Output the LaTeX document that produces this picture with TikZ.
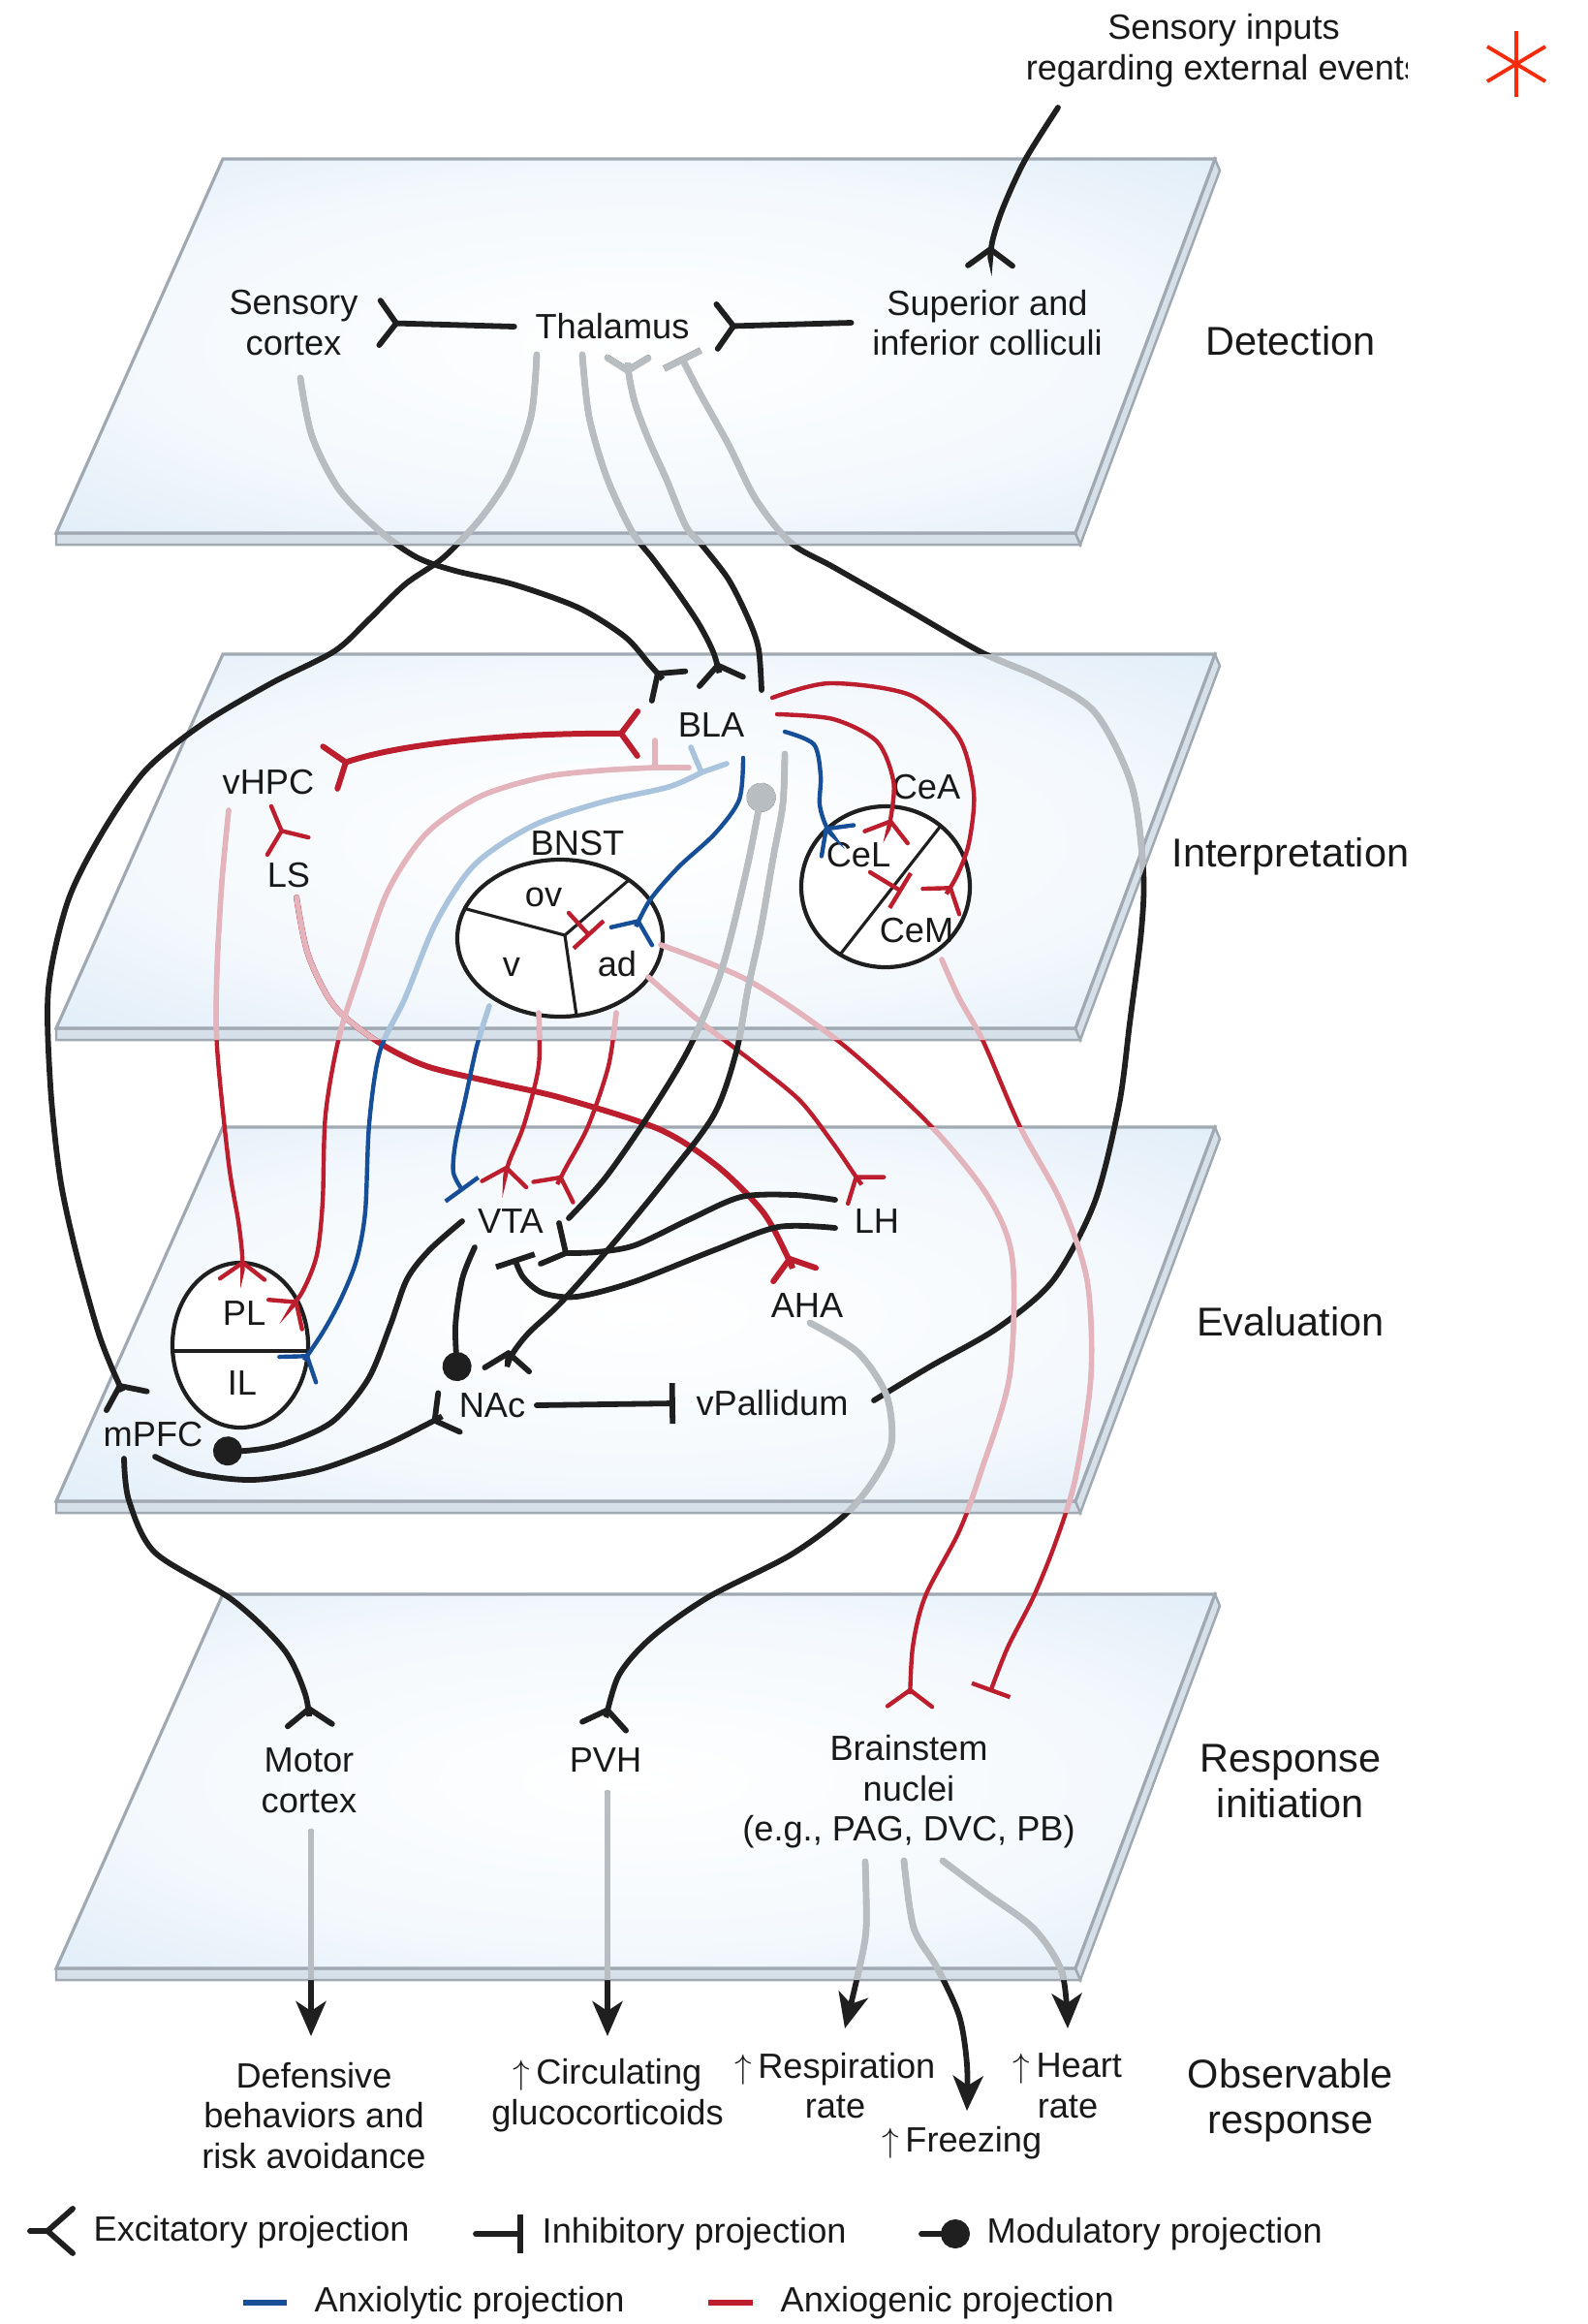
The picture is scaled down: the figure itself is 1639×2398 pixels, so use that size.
\documentclass[tikz,border=0pt]{standalone}
\usepackage{fontspec}
\setmainfont{Liberation Sans}
\usetikzlibrary{arrows.meta}
\definecolor{anxred}{RGB}{188,30,45}
\definecolor{anxblue}{RGB}{22,78,152}
\definecolor{fadeblk}{RGB}{184,189,194}
\definecolor{fadered}{RGB}{228,180,188}
\definecolor{fadeblue}{RGB}{170,196,222}
\definecolor{planeblue}{RGB}{210,229,245}
\definecolor{planeedge}{RGB}{160,168,178}
\definecolor{slabside}{RGB}{214,224,233}
\definecolor{starred}{RGB}{246,45,12}
\pgfdeclareradialshading{planeglow}{\pgfpoint{0bp}{0bp}}{color(0bp)=(white); color(22bp)=(white!75!planeblue); color(46bp)=(planeblue); color(50bp)=(planeblue)}
\newcommand{\up}{$\uparrow$\,}

% connector paths (pixel units)
\newcommand{\pSensColl}{plot[smooth] coordinates {(1092,111) (1058,165) (1035,215) (1024,250) (1022,277)}}
\newcommand{\pSCBLA}{plot[smooth] coordinates {(310,390) (322,450) (350,505) (392,548) (430,575) (470,589) (530,603) (597,627) (645,657) (670,685) (692,710)}}
\newcommand{\pThalPFC}{plot[smooth] coordinates {(554,366) (548,430) (526,490) (496,535) (458,575) (418,603) (380,640) (345,672) (280,705) (209,747) (150,795) (105,860) (70,930) (50,1020) (52,1120) (62,1215) (78,1290) (100,1370) (114,1408) (132,1448)}}
\newcommand{\pThalBLA}{plot[smooth] coordinates {(601,366) (608,430) (626,492) (652,548) (675,578) (700,612) (722,645) (737,675) (745,706)}}
\newcommand{\pBLAThal}{plot[smooth] coordinates {(786,712) (783,670) (773,640) (752,598) (725,563) (708,543) (688,495) (670,455) (656,418) (649,386) (648,366)}}
\newcommand{\pVPThal}{plot[smooth] coordinates {(902,1445) (960,1410) (1030,1370) (1087,1321) (1130,1240) (1155,1140) (1166,1056) (1178,960) (1180,898) (1168,810) (1130,735) (1075,700) (1013,673) (930,625) (860,585) (816,560) (780,515) (752,459) (722,405) (703,368)}}
\newcommand{\pLSAHA}{plot[smooth] coordinates {(306,926) (318,985) (345,1038) (390,1075) (440,1100) (510,1117) (580,1133) (680,1165) (740,1203) (787,1250) (812,1295) (821,1318)}}
\newcommand{\pHPCPL}{plot[smooth] coordinates {(236,836) (229,910) (224,1000) (224,1080) (236,1200) (246,1260) (250,1295) (250,1322)}}
\newcommand{\pBLAPL}{plot[smooth] coordinates {(676,792) (620,795) (560,802) (495,822) (440,860) (400,920) (372,1000) (350,1070) (336,1150) (333,1240) (327,1295) (312,1333) (293,1358)}}
\newcommand{\pBLAIL}{plot[smooth] coordinates {(724,797) (690,812) (620,828) (550,852) (490,892) (450,952) (418,1030) (392,1085) (381,1160) (377,1250) (368,1300) (352,1340) (333,1375) (306,1415)}}
\newcommand{\pBLAad}{plot[smooth] coordinates {(767,782) (763,825) (738,860) (700,895) (670,930) (651,968)}}
\newcommand{\pBLACeL}{plot[smooth] coordinates {(810,755) (840,768) (847,800) (846,830) (853,853) (866,869)}}
\newcommand{\pBLACeLr}{plot[smooth] coordinates {(802,737) (860,742) (905,765) (922,805) (920,840) (914,866)}}
\newcommand{\pBLACeM}{plot[smooth] coordinates {(797,720) (856,705) (939,717) (989,760) (1005,817) (1000,870) (987,905) (970,932)}}
\newcommand{\pCeMBS}{plot[smooth] coordinates {(972,990) (990,1030) (1015,1075) (1053,1163) (1095,1240) (1122,1321) (1126,1420) (1110,1525) (1090,1590) (1067,1647) (1040,1700) (1022,1746)}}
\newcommand{\padBS}{plot[smooth] coordinates {(682,975) (773,1012) (870,1078) (961,1162) (1020,1235) (1045,1300) (1042,1420) (1012,1520) (990,1580) (955,1647) (942,1700) (939,1763)}}
\newcommand{\padLH}{plot[smooth] coordinates {(669,1008) (720,1052) (780,1098) (826,1136) (860,1180) (882,1212) (895,1230)}}
\newcommand{\pvVTA}{plot[smooth] coordinates {(505,1038) (492,1080) (480,1135) (470,1180) (468,1210) (478,1229)}}
\newcommand{\povVTA}{plot[smooth] coordinates {(556,1045) (556,1100) (541,1160) (525,1200) (520,1224)}}
\newcommand{\padVTA}{plot[smooth] coordinates {(636,1045) (628,1100) (607,1162) (584,1205) (570,1232)}}
\newcommand{\pVTABLA}{plot[smooth] coordinates {(587,1257) (625,1215) (670,1150) (712,1080) (745,1000) (770,900) (784,830) (788,808)}}
\newcommand{\pBLANAc}{plot[smooth] coordinates {(810,778) (808,830) (798,885) (785,960) (772,1020) (760,1085) (737,1150) (687,1217) (633,1283) (580,1343) (545,1376) (527,1400) (523,1416)}}
\newcommand{\pLHVTAa}{plot[smooth] coordinates {(862,1238) (820,1233) (765,1235) (712,1258) (655,1285) (615,1292) (584,1293)}}
\newcommand{\pLHVTAb}{plot[smooth] coordinates {(862,1267) (803,1266) (737,1290) (653,1323) (595,1338) (560,1334) (540,1318) (531,1298)}}
\newcommand{\pVTANAc}{plot[smooth] coordinates {(490,1287) (477,1320) (470,1370) (473,1425)}}
\newcommand{\pVTAPFC}{plot[smooth] coordinates {(477,1260) (443,1290) (420,1320) (403,1367) (380,1423) (343,1467) (293,1490) (253,1497) (220,1496)}}
\newcommand{\pPFCNAc}{plot[smooth] coordinates {(160,1503) (200,1520) (260,1527) (327,1517) (393,1493) (440,1470) (466,1456)}}
\newcommand{\pAHAPVH}{plot[smooth] coordinates {(836,1365) (885,1395) (915,1440) (920,1490) (900,1530) (870,1565) (815,1605) (731,1648) (672,1690) (638,1730) (623,1784)}}
\newcommand{\pPFCMot}{plot[smooth] coordinates {(128,1505) (133,1548) (160,1602) (240,1651) (293,1702) (315,1748) (320,1783)}}
\newcommand{\pMotDef}{(321,1890) -- (321,2101)}
\newcommand{\pPVHGlu}{(627,1850) -- (627,2101)}
\newcommand{\pBSResp}{plot[smooth] coordinates {(893,1921) (894,1990) (886,2035) (872,2093)}}
\newcommand{\pBSFrz}{plot[smooth] coordinates {(933,1920) (943,1989) (967,2030) (990,2080) (998,2130) (998,2178)}}
\newcommand{\pBSHeart}{plot[smooth] coordinates {(973,1920) (1017,1953) (1067,1990) (1096,2035) (1102,2093)}}

\begin{document}
\begin{tikzpicture}[x=0.1mm, y=-0.1mm,
  lab/.style={font=\fontsize{10.3}{11.8}\selectfont, text=black!90, inner sep=0pt, align=center},
  stage/.style={font=\fontsize{11.8}{13.4}\selectfont, text=black!90, inner sep=0pt, align=center},
  blkln/.style={draw=black!88, line width=1.65pt, line cap=round},
  fblk/.style={draw=fadeblk, line width=1.95pt, line cap=round},
  redln/.style={draw=anxred, line width=1.25pt, line cap=round},
  redthick/.style={draw=anxred, line width=1.7pt, line cap=round},
  fred/.style={draw=fadered, line width=1.6pt, line cap=round},
  blueln/.style={draw=anxblue, line width=1.25pt, line cap=round},
  fblue/.style={draw=fadeblue, line width=1.6pt, line cap=round},
  exc/.style={-{Straight Barb[reversed,round,length=1.7mm,width=4.6mm]}},
  excs/.style={-{Straight Barb[reversed,round,length=1.3mm,width=4.2mm]}},
  excboth/.style={{Straight Barb[reversed,round,length=1.7mm,width=4.6mm]}-{Straight Barb[reversed,round,length=1.7mm,width=4.6mm]}},
  inh/.style={-{Bar[width=4.2mm]}},
  mod/.style={-{Circle[length=3mm]}},
  outarr/.style={-{Stealth[length=3.6mm,width=3.1mm,inset=1mm]}},
  ring/.style={draw=black!88, line width=1.2pt, fill=white}]
\useasboundingbox (0,0) rectangle (1639,2398);

% the four slabs
\foreach \t in {164,675,1163,1645}{
  \fill[slabside, draw=planeedge, line width=0.7pt] (58,\t+386) -- (1110,\t+386) -- (1115,\t+398) -- (58,\t+398) -- cycle;
  \fill[slabside, draw=planeedge, line width=0.7pt] (1254,\t) -- (1259,\t+12) -- (1115,\t+398) -- (1110,\t+386) -- cycle;
  \shade[shading=planeglow, draw=planeedge, line width=0.9pt] (230,\t) -- (1254,\t) -- (1110,\t+386) -- (58,\t+386) -- cycle;
}

% nuclei outlines
\draw[ring] (578,968) ellipse [x radius=106, y radius=81];
\draw[black!88, line width=0.9pt] (583,965) -- (478,937) (583,965) -- (649,908) (583,965) -- (595,1048);
\draw[ring] (914,915) ellipse [x radius=87, y radius=83];
\draw[black!88, line width=0.9pt] (971,852) -- (867,985);
\draw[ring] (248,1388) ellipse [x radius=70, y radius=85];
\draw[black!88, line width=1.1pt] (178,1394) -- (318,1394);

% labels
\node[lab] (sc) at (303,333) {Sensory\\cortex};
\node[lab] (thal) at (632,337) {Thalamus};
\node[lab] (coll) at (1019,333) {Superior and\\inferior colliculi};
\begin{scope}
  \clip (1000,0) rectangle (1452,110);
  \node[lab] (sensin) at (1263,52) {Sensory inputs\\regarding external events};
\end{scope}
\node[lab] (bla) at (734,748) {BLA};
\node[lab] (vhpc) at (277,807) {vHPC};
\node[lab] (ls) at (298,903) {LS};
\node[lab] (bnst) at (596,870) {BNST};
\node[lab] (ov) at (561,926) {ov};
\node[lab] (v) at (528,998) {v};
\node[lab] (ad) at (637,995) {ad};
\node[lab] (cea) at (956,812) {CeA};
\node[lab] (cel) at (886,882) {CeL};
\node[lab] (cem) at (946,960) {CeM};
\node[lab] (vta) at (527,1260) {VTA};
\node[lab] (lh) at (905,1260) {LH};
\node[lab] (aha) at (833,1347) {AHA};
\node[lab] (pl) at (252,1355) {PL};
\node[lab] (il) at (250,1427) {IL};
\node[lab] (mpfc) at (158,1480) {mPFC};
\node[lab] (nac) at (508,1450) {NAc};
\node[lab] (vpal) at (797,1448) {vPallidum};
\node[lab] (motor) at (319,1837) {Motor\\cortex};
\node[lab] (pvh) at (625,1816) {PVH};
\node[lab] (bstem) at (938,1849) {Brainstem\\nuclei\\(e.g., PAG, DVC, PB)};
\node[lab] (defens) at (324,2183) {Defensive\\behaviors and\\risk avoidance};
\node[lab] (gluco) at (627,2162) {\up Circulating\\glucocorticoids};
\node[lab] (resp) at (862,2152) {\up Respiration\\rate};
\node[lab] (heart) at (1102,2152) {\up Heart\\rate};
\node[lab] (freeze) at (993,2211) {\up Freezing};
\node[stage] (sdet) at (1332,352) {Detection};
\node[stage] (sint) at (1332,884) {Interpretation};
\node[stage] (seva) at (1332,1364) {Evaluation};
\node[stage] (sres) at (1332,1838) {Response\\initiation};
\node[stage] (sobs) at (1332,2167) {Observable\\response};

% asterisk
\draw[starred, line width=1.1pt] (1565,32) -- (1565,100) (1535,48) -- (1595,84) (1535,84) -- (1595,48);

% detection
\draw[blkln,exc] ([xshift=-2.1mm]thal.west) -- ([xshift=1.9mm]sc.east);
\draw[blkln,exc] ([xshift=-2.1mm]coll.west) -- ([xshift=2.5mm]thal.east);
\draw[blkln,exc] \pSensColl;
\draw[blkln,exc] \pSCBLA;
\draw[blkln,exc] \pThalPFC;
\draw[blkln,exc] \pThalBLA;
\draw[blkln,excs] \pBLAThal;
\draw[blkln,inh] \pVPThal;

% interpretation
\draw[redthick,excboth] (338,793) .. controls (420,765) and (540,756) .. (661,757);
\draw[redln,exc] (280,832) -- (298,875);
\draw[redthick,exc] \pLSAHA;
\draw[redln,exc] \pHPCPL;
\draw[redln,exc] \pBLAPL;
\draw[blueln,exc] \pBLAIL;
\draw[blueln,exc] \pBLAad;
\draw[redln,inh] (587,942) -- (609,966);
\draw[blueln,exc] \pBLACeL;
\draw[redln,exc] \pBLACeLr;
\draw[redln,exc] \pBLACeM;
\draw[redln,inh] (898,900) -- (931,920);
\draw[redln,inh] \pCeMBS;
\draw[redln,exc] \padBS;
\draw[redln,exc] \padLH;
\draw[blueln,inh] \pvVTA;
\draw[redln,exc] \povVTA;
\draw[redln,exc] \padVTA;
\draw[blkln,mod] \pVTABLA;
\draw[blkln,exc] \pBLANAc;

% evaluation
\draw[blkln] \pLHVTAa;
\draw[blkln] (577,1262) -- (584,1293) -- (558,1304);
\draw[blkln,inh] \pLHVTAb;
\draw[blkln,mod] \pVTANAc;
\draw[blkln,mod] \pVTAPFC;
\draw[blkln,exc] \pPFCNAc;
\draw[blkln,inh] ([xshift=1.1mm]nac.east) -- ([xshift=-2.1mm]vpal.west);
\draw[blkln,exc] \pAHAPVH;
\draw[blkln,exc] \pPFCMot;

% response
\draw[blkln,outarr] \pMotDef;
\draw[blkln,outarr] \pPVHGlu;
\draw[blkln,outarr] \pBSResp;
\draw[blkln,outarr] \pBSFrz;
\draw[blkln,outarr] \pBSHeart;

% parts seen through a slab
\begin{scope}
  \clip (230,164) -- (1254,164) -- (1259,176) -- (1115,562) -- (58,562) -- cycle;
  \draw[fblk] \pSCBLA;
  \draw[fblk] \pThalPFC;
  \draw[fblk] \pThalBLA;
  \draw[fblk,excs] \pBLAThal;
  \draw[fblk,inh] \pVPThal;
\end{scope}
\begin{scope}
  \clip (230,675) -- (1254,675) -- (1259,687) -- (1115,1073) -- (58,1073) -- cycle;
  \draw[fblk] \pVPThal;
  \draw[fred] \pLSAHA;
  \draw[fred] \pHPCPL;
  \draw[fred] \pBLAPL;
  \draw[fblue] \pBLAIL;
  \draw[fred] \pCeMBS;
  \draw[fred] \padBS;
  \draw[fred] \padLH;
  \draw[fblue] \pvVTA;
  \draw[fred] \povVTA;
  \draw[fred] \padVTA;
  \draw[fblk,mod] \pVTABLA;
  \draw[fblk] \pBLANAc;
  \draw[fred] (676,764) -- (676,792) -- (711,792);
  \draw[fblue] (713,771) -- (724,797) -- (750,788);
\end{scope}
\begin{scope}
  \clip (230,1163) -- (1254,1163) -- (1259,1175) -- (1115,1561) -- (58,1561) -- cycle;
  \draw[fred] \pCeMBS;
  \draw[fred] \padBS;
  \draw[fblk] \pAHAPVH;
\end{scope}
\begin{scope}
  \clip (230,1645) -- (1254,1645) -- (1259,1657) -- (1115,2043) -- (58,2043) -- cycle;
  \draw[fblk] \pMotDef;
  \draw[fblk] \pPVHGlu;
  \draw[fblk] \pBSResp;
  \draw[fblk] \pBSFrz;
  \draw[fblk] \pBSHeart;
\end{scope}

% legend
\draw[blkln,-{Straight Barb[reversed,round,length=2.6mm,width=4.6mm]}] (31,2302) -- (78,2302);
\node[lab, anchor=west] (lexc) at (96,2303) {Excitatory projection};
\draw[blkln,-{Bar[width=4mm]}] (491,2305) -- (540,2305);
\node[lab, anchor=west] (linh) at (559,2305) {Inhibitory projection};
\draw[blkln,mod] (951,2305) -- (1001,2305);
\node[lab, anchor=west] (lmod) at (1018,2305) {Modulatory projection};
\draw[anxblue, line width=1.8pt] (251,2376) -- (296,2376);
\node[lab, anchor=west] (llyt) at (324,2376) {Anxiolytic projection};
\draw[anxred, line width=1.8pt] (731,2376) -- (777,2376);
\node[lab, anchor=west] (lgen) at (805,2376) {Anxiogenic projection};
\end{tikzpicture}
\end{document}
